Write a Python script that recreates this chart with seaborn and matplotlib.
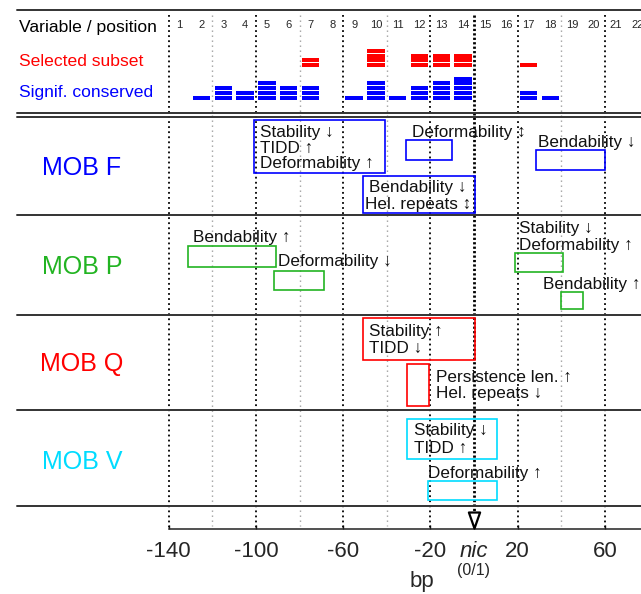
import numpy as np
import seaborn as sns
import matplotlib.pyplot as plt
from matplotlib.path import Path
from matplotlib.transforms import blended_transform_factory

# --- donnees ---
positions = list(range(1, 23))
selected = [0, 0, 0, 0, 0, 0, 2, 0, 0, 4, 0, 3, 3, 3, 0, 0, 1, 0, 0, 0, 0, 0]
conserved = [0, 1, 3, 2, 4, 3, 3, 0, 1, 4, 1, 3, 4, 5, 0, 0, 2, 1, 0, 0, 0, 0]

tick_vals = [-140, -100, -60, -20, 0, 20, 60]
tick_labels = ["-140", "-100", "-60", "-20", "nic", "20", "60"]
major_lines = [-140, -100, -60, -20, 20, 60]
minor_lines = [-120, -80, -40, 40]
nic_pos = 0

groups = ["MOB F", "MOB P", "MOB Q", "MOB V"]
group_colors = ["#0000ff", "#22b422", "#ff0000", "#00dcff"]

# regions (bp) par groupe
box_group = [0, 0, 0, 0, 1, 1, 1, 1, 2, 2, 3, 3]
box_x0 = [-101, -31, 28.5, -51, -131, -91.5, 19, 40, -51, -30.5, -30.5, -21]
box_x1 = [-41, -10, 60, 0.5, -91, -69, 41, 50, 0.5, -20.5, 10.5, 10.5]

ann_text = [
    "Stability \u2193\nTIDD \u2191\nDeformability \u2191",
    "Deformability \u2195",
    "Bendability \u2193",
    "Bendability \u2193\nHel. repeats \u2195",
    "Bendability \u2191",
    "Deformability \u2193",
    "Stability \u2193\nDeformability \u2191",
    "Bendability \u2191",
    "Stability \u2191\nTIDD \u2193",
    "Persistence len. \u2191\nHel. repeats \u2193",
    "Stability \u2193\nTIDD \u2191",
    "Deformability \u2191",
]
ann_x = [-98.2, -28.6, 29.5, -25.7, -129, -89.9, 20.8, 31.7, -48, -17.4, -27.4, -21.1]

# --- mise en page (y en pixels depuis le haut) ---
box_y = [(120, 173), (140, 160), (150, 170), (175.7, 213),
         (246, 266.7), (270.7, 290), (252.7, 272.3), (291.7, 309.3),
         (317.7, 360), (364.3, 406), (419, 459), (481, 500)]
ann_y = [137, 137.3, 146.7, 192.3, 242.3, 265.7, 233.3, 289,
         335.7, 382.3, 435, 478.3]
ann_pitch = [15.5, 16.5, 16.5, 16.7, 16.5, 16.5, 16.7, 16.5,
             17.6, 16.0, 17.7, 16.5]
ann_ha = ["left", "left", "left", "center", "left", "left", "left", "left",
          "left", "left", "left", "left"]
group_base = [175, 274, 371, 469]
hlines_y = [10, 113, 117, 215, 315, 410, 506]

sns.set_theme(style="white")
plt.rcParams["font.family"] = ["Liberation Sans", "DejaVu Sans"]

fig = plt.figure(figsize=(6.41, 5.94), dpi=100)
ax = fig.add_axes([0, 0, 1, 1])
ax.set_xlim(-217.4, 76.6)
ax.set_ylim(594, 0)
trans = blended_transform_factory(ax.transAxes, ax.transData)

# lignes horizontales
for y in hlines_y:
    ax.axhline(y, xmin=17 / 641, color="#333333", lw=1.4, zorder=3)

# lignes verticales pointillees
ax.vlines(minor_lines, 15, 526, color="#a0a0a0", lw=1.0,
          linestyles=[(0, (1, 2.6))], zorder=1)
ax.vlines(major_lines, 15, 528, color="black", lw=1.3,
          linestyles=[(0, (1, 1.8))], zorder=1)
ax.vlines([nic_pos], 15, 512, color="black", lw=2.0,
          linestyles=[(0, (0.8, 0.8))], zorder=1)

# en-tete
ax.text(19 / 641, 31.7, "Variable / position", transform=trans,
        fontsize=12.6, color="black")
ax.text(19 / 641, 65.7, "Selected subset", transform=trans,
        fontsize=12.6, color="#ff0000")
ax.text(19 / 641, 97.3, "Signif. conserved", transform=trans,
        fontsize=12.6, color="#0000ff")
for p in positions:
    ax.text(-150 + 10 * p + 5, 27.7, str(p), ha="center", fontsize=8)

# barres empilees (une unite = un rectangle)
unit_h, pitch = 3.9, 4.7
for counts, base, col in [(selected, 67.0, "#ff0000"), (conserved, 99.5, "#0000ff")]:
    xs = np.repeat([-150 + 10 * p + 5 for p in positions], counts)
    ks = np.concatenate([np.arange(c) for c in counts])
    ax.bar(xs, -unit_h, bottom=base - ks * pitch, width=8,
           color=col, linewidth=0, zorder=2)

# groupes
for g, name in enumerate(groups):
    ax.text(82 / 641, group_base[g], name, transform=trans, ha="center",
            fontsize=18, color=group_colors[g])

# rectangles
for i in range(len(box_x0)):
    y0, y1 = box_y[i]
    ax.bar(box_x0[i], y1 - y0, bottom=y0, width=box_x1[i] - box_x0[i],
           align="edge", fill=False, edgecolor=group_colors[box_group[i]],
           linewidth=1.2, zorder=4)

# annotations
for i, txt in enumerate(ann_text):
    for j, line in enumerate(txt.split("\n")):
        ax.text(ann_x[i], ann_y[i] + j * ann_pitch[i], line, ha=ann_ha[i],
                va="baseline", fontsize=12.3, color="#111111", zorder=5)

# axe des x
sns.despine(ax=ax, left=True, top=True, right=True)
ax.spines["bottom"].set_position(("data", 529))
ax.spines["bottom"].set_bounds(-140, 80)
ax.spines["bottom"].set_color("#222222")
ax.spines["bottom"].set_linewidth(1.1)
ax.set_yticks([])
ax.set_xticks(tick_vals, labels=tick_labels)
ax.tick_params(axis="x", direction="in", length=2.6, width=1.0,
               color="#222222", pad=8.5, labelsize=16, bottom=True)
for lab in ax.get_xticklabels():
    if lab.get_text() == "nic":
        lab.set_style("italic")
ax.text(nic_pos, 570, "(0/1)", ha="center", va="center", fontsize=11.5)
ax.text(-23.9, 582, "bp", ha="center", va="center", fontsize=16)

# fleche nic (triangle ouvert pointe en bas)
tri = Path([(-0.7, 1), (0.7, 1), (0, -1), (-0.7, 1)],
           [Path.MOVETO, Path.LINETO, Path.LINETO, Path.CLOSEPOLY])
ax.plot([nic_pos], [520], marker=tri, linestyle="none",
        markersize=11.5, markerfacecolor="white", markeredgecolor="black",
        markeredgewidth=1.6, zorder=6, clip_on=False)

fig.savefig("out.png", dpi=100)
